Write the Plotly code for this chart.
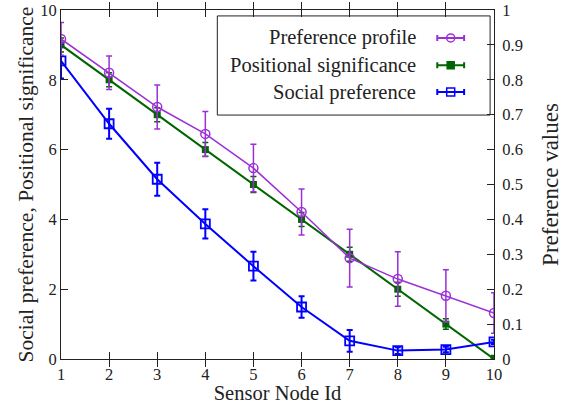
import plotly.graph_objects as go

node_ids = [1, 2, 3, 4, 5, 6, 7, 8, 9, 10]

# Preference profile (right axis, 0-1)
pref_profile = [0.917, 0.820, 0.722, 0.645, 0.547, 0.421, 0.289, 0.229, 0.181, 0.132]
pref_profile_err = [0.047, 0.048, 0.063, 0.064, 0.068, 0.066, 0.083, 0.078, 0.075, 0.058]

# Positional significance (left axis)
positional = [9, 8, 7, 6, 5, 4, 3, 2, 1, 0]
positional_err = [0.2, 0.2, 0.2, 0.2, 0.23, 0.2, 0.2, 0.2, 0.15, 0.1]

# Social preference (left axis)
social = [8.54, 6.74, 5.15, 3.87, 2.66, 1.49, 0.52, 0.24, 0.27, 0.49]
social_err = [0.50, 0.43, 0.47, 0.42, 0.41, 0.31, 0.31, 0.10, 0.08, 0.06]

series_names = ["Preference profile", "Positional significance", "Social preference"]
colors = ["#9b30d6", "#006400", "#0000ff"]
symbols = ["circle-open", "square", "square-open"]

FONT = "'Liberation Serif', 'Times New Roman', Times, 'DejaVu Serif', serif"

fig = go.Figure()

fig.add_trace(go.Scatter(
    x=node_ids, y=pref_profile, yaxis="y2", mode="lines+markers",
    line=dict(color=colors[0], width=1.5),
    marker=dict(symbol=symbols[0], size=9, color=colors[0], line=dict(width=1.5, color=colors[0])),
    error_y=dict(type="data", array=pref_profile_err, color=colors[0], thickness=1.5, width=3),
    showlegend=False))

fig.add_trace(go.Scatter(
    x=node_ids, y=positional, mode="lines+markers",
    line=dict(color=colors[1], width=2),
    marker=dict(symbol=symbols[1], size=7, color=colors[1]),
    error_y=dict(type="data", array=positional_err, color=colors[1], thickness=1.5, width=3),
    showlegend=False))

fig.add_trace(go.Scatter(
    x=node_ids, y=social, mode="lines+markers",
    line=dict(color=colors[2], width=2),
    marker=dict(symbol=symbols[2], size=9, color=colors[2], line=dict(width=1.8, color=colors[2])),
    error_y=dict(type="data", array=social_err, color=colors[2], thickness=2, width=3),
    showlegend=False))

# Custom legend (text left of the symbol, as in the reference)
leg_rows_y = [0.92, 0.842, 0.765]
for name, col, sym, ly in zip(series_names, colors, symbols, leg_rows_y):
    fig.add_trace(go.Scatter(
        x=[0.90], y=[ly], xaxis="x3", yaxis="y3", mode="markers",
        marker=dict(symbol=sym, size=7 if sym == "square" else 8, color=col,
                    line=dict(width=1.5, color=col)),
        error_x=dict(type="data", array=[0.031], color=col, thickness=2, width=3),
        showlegend=False, hoverinfo="skip"))
    fig.add_annotation(x=0.824, y=ly, xref="x3", yref="y3", text=name,
                       showarrow=False, xanchor="right", yanchor="middle",
                       font=dict(family=FONT, size=20.5, color="#222"))

fig.add_shape(type="rect", xref="paper", yref="paper",
              x0=0.361, x1=0.991, y0=0.699, y1=0.983,
              line=dict(color="#222", width=1), fillcolor="white", layer="below")

axis_common = dict(showgrid=False, zeroline=False, linecolor="#222", linewidth=1,
                   ticks="inside", tickcolor="#222", ticklen=7, automargin=False,
                   tickfont=dict(family=FONT, size=16.5, color="#222"))

fig.update_layout(
    width=563, height=404,
    margin=dict(l=61, r=69, t=10, b=45, autoexpand=False),
    plot_bgcolor="white", paper_bgcolor="white",
    font=dict(family=FONT, color="#222"),
    xaxis=dict(range=[1, 10], dtick=1, mirror="allticks",
               title=dict(text="Sensor Node Id", font=dict(family=FONT, size=20.5), standoff=4),
               **axis_common),
    yaxis=dict(range=[0, 10], dtick=2, mirror=True,
               title=dict(text="Social preference, Positional significance",
                          font=dict(family=FONT, size=21.5), standoff=0),
               **axis_common),
    yaxis2=dict(range=[0, 1], dtick=0.1, overlaying="y", side="right",
                ticklabelstandoff=4,
                title=dict(text="Preference values", font=dict(family=FONT, size=23), standoff=20),
                **axis_common),
    xaxis3=dict(range=[0, 1], overlaying="x", visible=False, domain=[0, 1]),
    yaxis3=dict(range=[0, 1], overlaying="y", visible=False),
)

fig.write_html("out.html")
